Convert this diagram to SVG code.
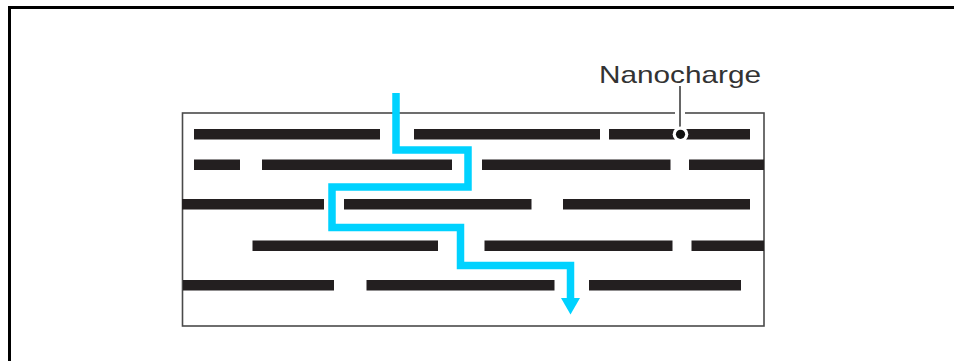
<svg xmlns="http://www.w3.org/2000/svg" width="954" height="361" viewBox="0 0 954 361">
  <style>
    .frame { fill: none; stroke: #000; stroke-width: 3; }
    .box { fill: #fff; stroke: #4a4a4a; stroke-width: 1.6; }
    .bar { fill: #231f20; }
    .path { fill: none; stroke: #00d2ff; stroke-width: 7.5; stroke-linejoin: miter; }
    .head { fill: #00d2ff; }
    .label { font-family: "Liberation Sans", Arial, sans-serif; font-size: 24px; fill: #333; }
  </style>

  <!-- outer frame -->
  <path class="frame" d="M9.5 361 V7.5 H954"/>

  <!-- composite film cross-section -->
  <g id="film">
    <rect class="box" x="182.5" y="113" width="581.5" height="213"/>
    <!-- platelet layers -->
    <g id="layer1">
      <rect class="bar" x="194" y="129" width="186" height="10.5"/>
      <rect class="bar" x="414" y="129" width="186" height="10.5"/>
      <rect class="bar" x="609" y="129" width="141" height="10.5"/>
    </g>
    <g id="layer2">
      <rect class="bar" x="194" y="159.5" width="46" height="10.5"/>
      <rect class="bar" x="262" y="159.5" width="190" height="10.5"/>
      <rect class="bar" x="482" y="159.5" width="188.5" height="10.5"/>
      <rect class="bar" x="689" y="159.5" width="75" height="10.5"/>
    </g>
    <g id="layer3">
      <rect class="bar" x="182" y="199" width="142" height="10.5"/>
      <rect class="bar" x="344" y="199" width="187.5" height="10.5"/>
      <rect class="bar" x="563" y="199" width="187" height="10.5"/>
    </g>
    <g id="layer4">
      <rect class="bar" x="252.5" y="240.5" width="185.5" height="10.5"/>
      <rect class="bar" x="484.5" y="240.5" width="188" height="10.5"/>
      <rect class="bar" x="691.5" y="240.5" width="72.5" height="10.5"/>
    </g>
    <g id="layer5">
      <rect class="bar" x="183" y="280" width="151" height="10.5"/>
      <rect class="bar" x="366.5" y="280" width="188" height="10.5"/>
      <rect class="bar" x="589" y="280" width="152" height="10.5"/>
    </g>
  </g>

  <!-- nanocharge callout -->
  <g id="nanocharge">
    <line x1="680" y1="86" x2="680" y2="130" stroke="#fff" stroke-width="10"/>
    <line x1="680" y1="86" x2="680" y2="132" stroke="#333" stroke-width="1.5"/>
    <circle cx="680.5" cy="134.3" r="7.8" fill="#fff"/>
    <circle cx="680.5" cy="134.3" r="4.6" fill="#111"/>
    <text class="label" x="599" y="83" textLength="162" lengthAdjust="spacingAndGlyphs">Nanocharge</text>
  </g>

  <!-- diffusion path -->
  <g id="connectors">
    <polyline class="path" points="396,93 396,150 468,150 468,187 332,187 332,227.5 460.5,227.5 460.5,265.5 570.5,265.5 570.5,300"/>
    <polygon class="head" points="561,298 580,298 570.5,314.5"/>
  </g>
</svg>
